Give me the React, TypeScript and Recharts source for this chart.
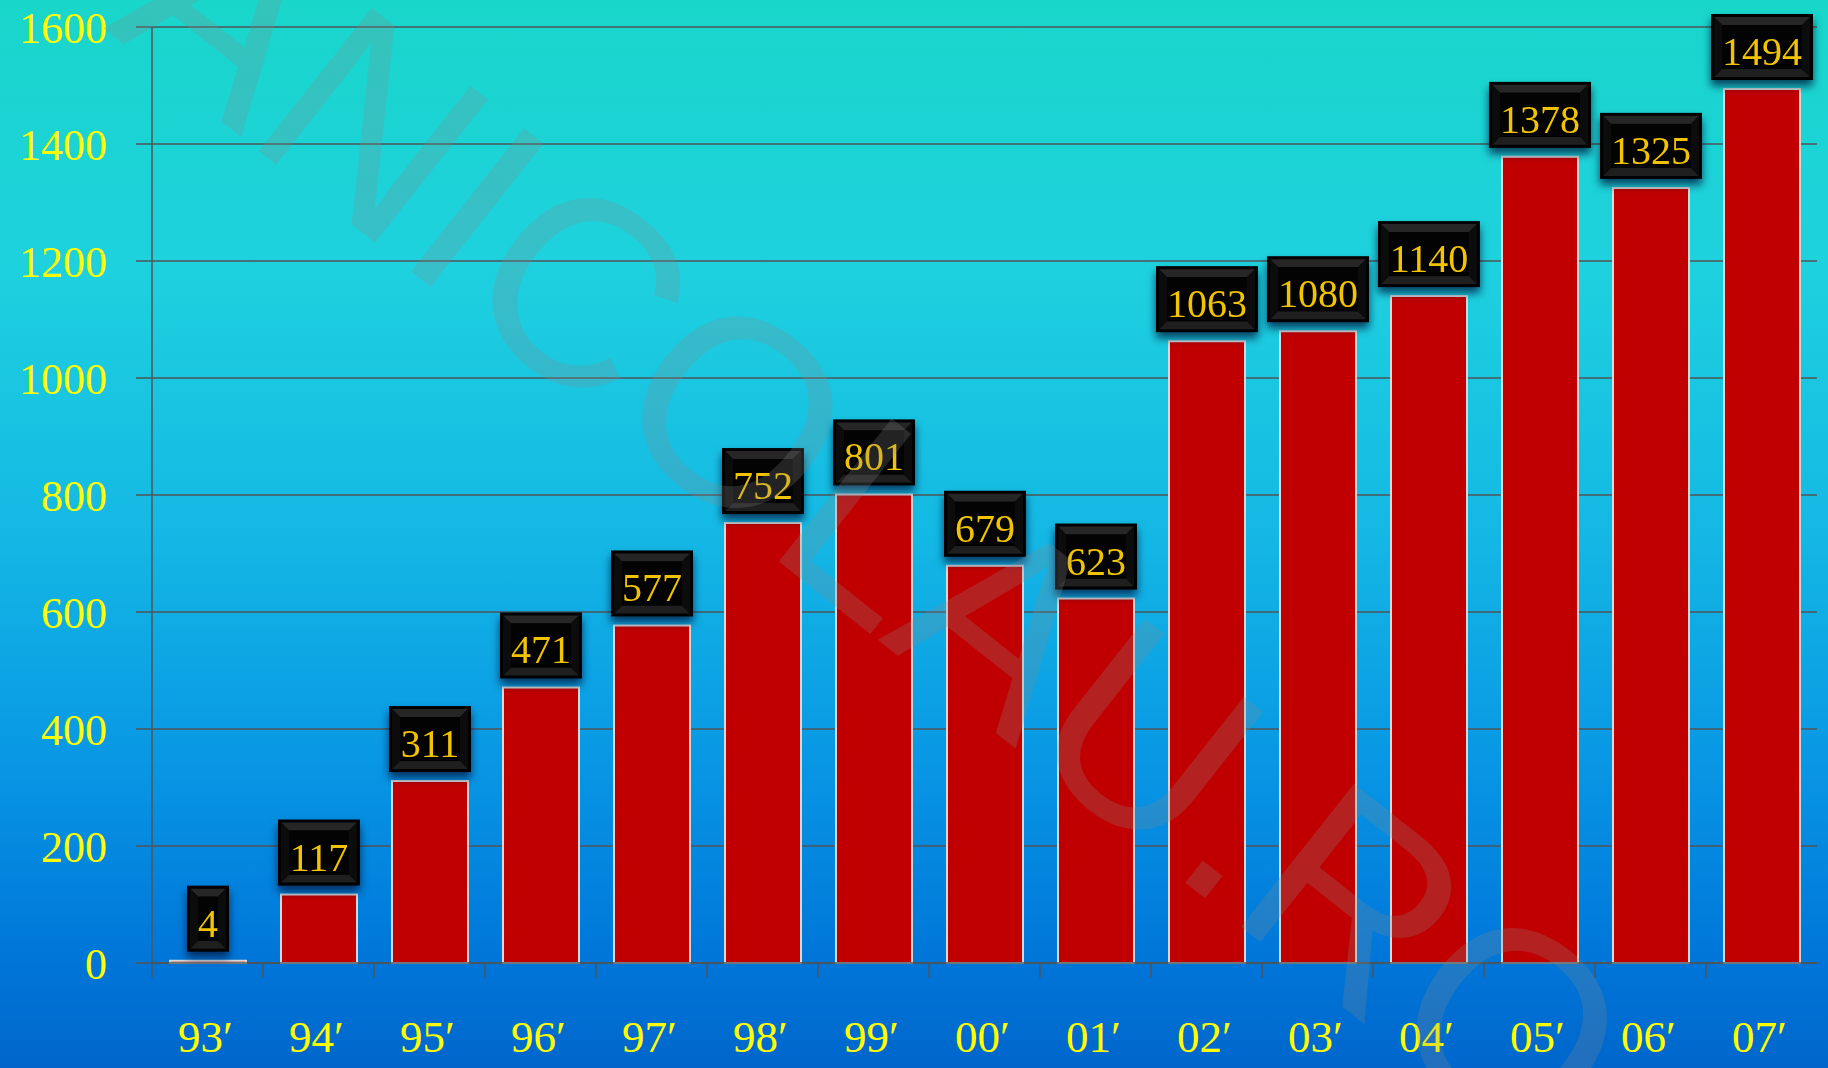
import React from "react";
import { BarChart, Bar, XAxis, YAxis, CartesianGrid, LabelList } from "recharts";

// Yearly totals, 1993 – 2007
const years = ["93′", "94′", "95′", "96′", "97′", "98′", "99′", "00′", "01′", "02′", "03′", "04′", "05′", "06′", "07′"];
const totals = [4, 117, 311, 471, 577, 752, 801, 679, 623, 1063, 1080, 1140, 1378, 1325, 1494];
const yTicks = [0, 200, 400, 600, 800, 1000, 1200, 1400, 1600];
const watermark = "ANICOLAU.RO";

const W = 1828;
const H = 1068;
const Y_AXIS_W = 152;
const MARGIN = { top: 27, right: 11, bottom: 0, left: 0 };
const X_AXIS_H = 105;
const BAND = (W - Y_AXIS_W - MARGIN.left - MARGIN.right) / years.length;

const SERIF = "'Liberation Serif', 'DejaVu Serif', serif";
const AXIS_YELLOW = "#FFFF00";
const LABEL_GOLD = "#F2C400";
const GRID = "#4f5556";

const data = years.map((year, i) => ({ year, value: totals[i] }));

const XTick = (props: any) => {
  const { x, y, payload } = props;
  const left = x - BAND / 2;
  return (
    <g>
      <line x1={left} y1={y} x2={left} y2={y + 15} stroke={GRID} strokeWidth={1.5} />
      <text
        x={x - 2}
        y={y + 89}
        textAnchor="middle"
        fill={AXIS_YELLOW}
        fontFamily={SERIF}
        fontSize={45}
      >
        {payload.value}
      </text>
    </g>
  );
};

const YTick = (props: any) => {
  const { x, y, payload } = props;
  return (
    <text x={x} y={y + 16} textAnchor="end" fill={AXIS_YELLOW} fontFamily={SERIF} fontSize={44}>
      {payload.value}
    </text>
  );
};

// Black bevelled badge sitting above each bar, showing its value
const ValueBox = (props: any) => {
  const { x, y, width, value } = props;
  const text = String(value);
  const w = text.length * 20 + 22;
  const h = 66;
  const cx = x + width / 2;
  const x0 = cx - w / 2;
  const y1 = y - 9;
  const y0 = y1 - h;
  const o = 3;
  const i = 11;
  return (
    <g style={{ filter: "drop-shadow(0px 6px 4px rgba(0, 20, 60, 0.75))" }}>
      <rect x={x0} y={y0} width={w} height={h} fill="#000" />
      <polygon
        points={`${x0 + o},${y0 + o} ${x0 + w - o},${y0 + o} ${x0 + w - i},${y0 + i} ${x0 + i},${y0 + i}`}
        fill="#262626"
      />
      <polygon
        points={`${x0 + o},${y1 - o} ${x0 + w - o},${y1 - o} ${x0 + w - i},${y1 - i} ${x0 + i},${y1 - i}`}
        fill="#1f1f1f"
      />
      <polygon
        points={`${x0 + o},${y0 + o} ${x0 + i},${y0 + i} ${x0 + i},${y1 - i} ${x0 + o},${y1 - o}`}
        fill="#0c0c0c"
      />
      <polygon
        points={`${x0 + w - o},${y0 + o} ${x0 + w - i},${y0 + i} ${x0 + w - i},${y1 - i} ${x0 + w - o},${y1 - o}`}
        fill="#0c0c0c"
      />
      <rect x={x0 + i} y={y0 + i} width={w - 2 * i} height={h - 2 * i} fill="#030303" />
      <text x={cx} y={y1 - 15} textAnchor="middle" fill={LABEL_GOLD} fontFamily={SERIF} fontSize={40}>
        {text}
      </text>
    </g>
  );
};

export default function App() {
  return (
    <div
      style={{
        position: "absolute",
        left: 0,
        top: 0,
        width: W,
        height: H,
        overflow: "hidden",
        background:
          "linear-gradient(to bottom, #19D6CA 0%, #1ED1DE 25%, #14B8E4 50%, #0896E4 72%, #0079DA 88%, #0066CC 100%)",
      }}
    >
      <BarChart width={W} height={H} data={data} margin={MARGIN}>
        <CartesianGrid horizontal vertical={false} stroke={GRID} strokeWidth={1.5} />
        <XAxis
          dataKey="year"
          height={X_AXIS_H}
          axisLine={{ stroke: GRID, strokeWidth: 1.5 }}
          tickLine={false}
          tickSize={0}
          tickMargin={0}
          interval={0}
          tick={<XTick />}
        />
        <YAxis
          width={Y_AXIS_W}
          domain={[0, 1600]}
          ticks={yTicks}
          interval={0}
          axisLine={{ stroke: GRID, strokeWidth: 1.5 }}
          tickLine={{ stroke: GRID, strokeWidth: 1.5 }}
          tickSize={16}
          tickMargin={29}
          tick={<YTick />}
        />
        <Bar
          dataKey="value"
          fill="#C00000"
          stroke="#D9D9D9"
          strokeWidth={2}
          barSize={76}
          isAnimationActive={false}
        >
          <LabelList dataKey="value" content={<ValueBox />} />
        </Bar>
      </BarChart>
      <svg
        width={W}
        height={H}
        style={{ position: "absolute", left: 0, top: 0, pointerEvents: "none" }}
      >
        <text
          transform="translate(103,28) rotate(38.3)"
          textAnchor="start"
          fontFamily="'Liberation Sans', Arial, sans-serif"
          fontSize={265}
          fill="#8a8a8a"
          fillOpacity={0.24}
        >
          {watermark}
        </text>
      </svg>
    </div>
  );
}
